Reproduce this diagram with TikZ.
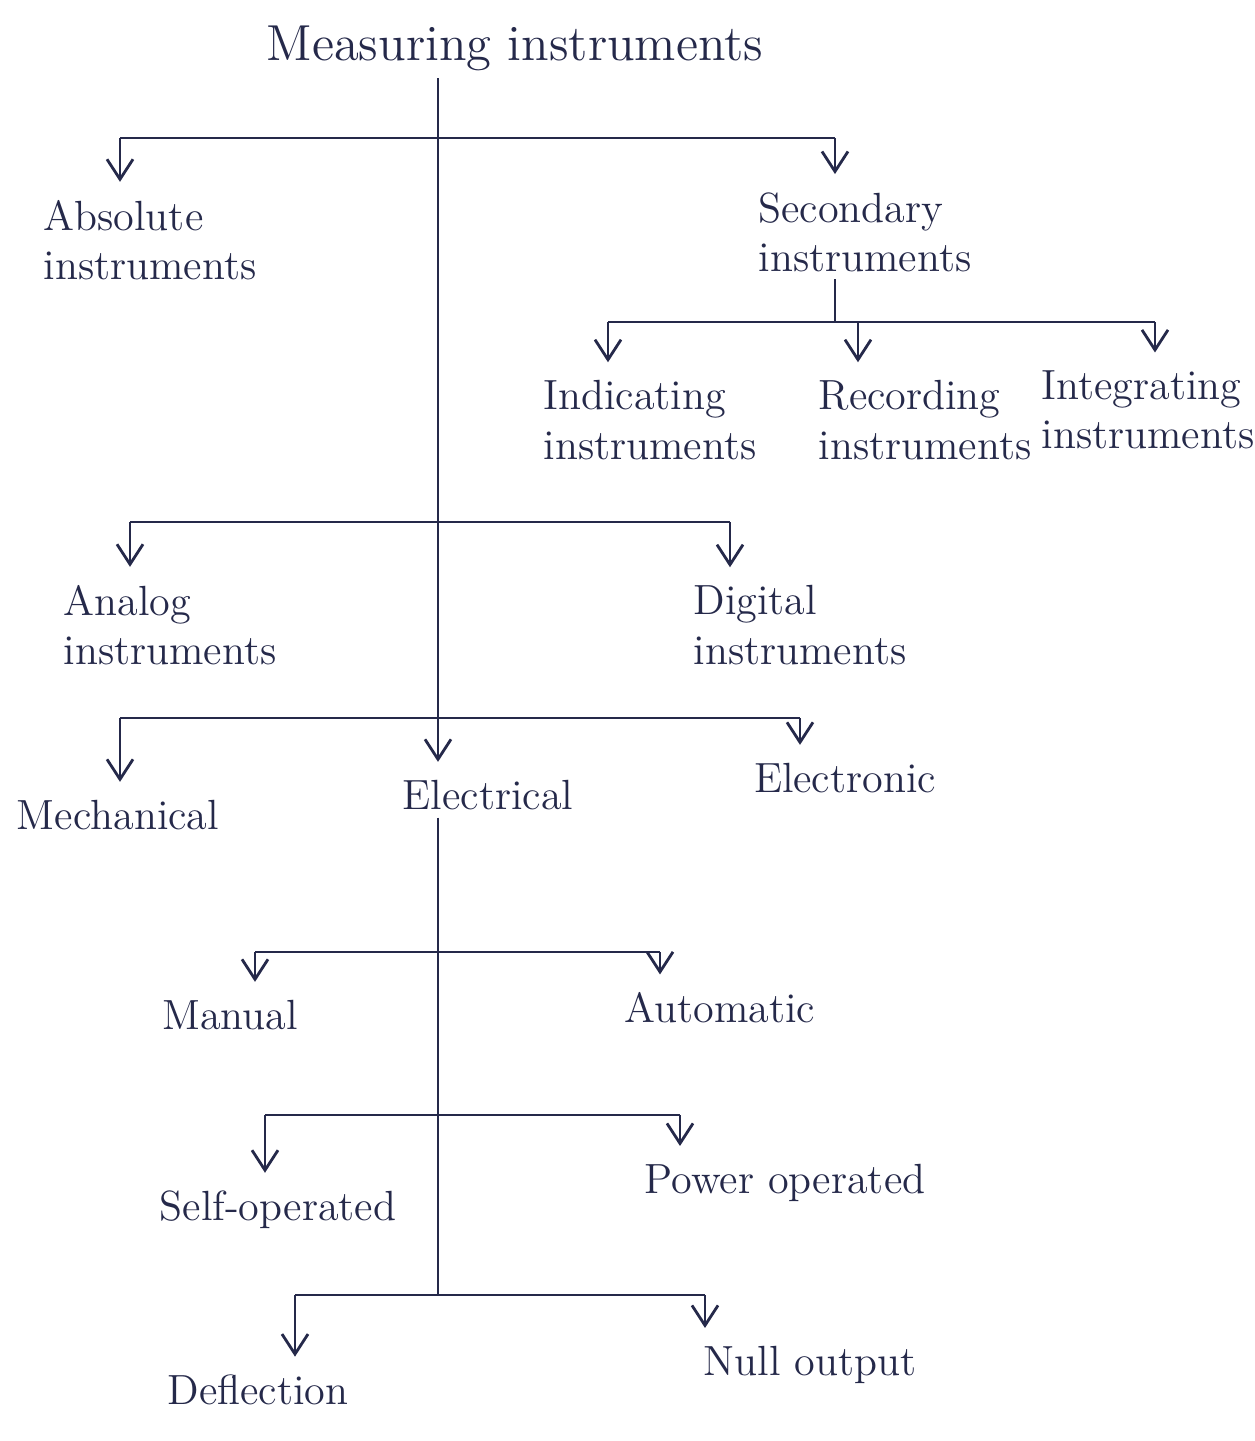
\documentclass[tikz,border=0pt]{standalone}
\usetikzlibrary{arrows.meta,positioning,calc}
\usepackage{xcolor}
\definecolor{ink}{HTML}{25294A}
\tikzset{
  item/.style={align=left,font=\large,text=ink,inner sep=2pt},
  head/.style={font=\Large,text=ink,inner sep=2pt},
  arr/.style={-{Straight Barb[length=2mm,width=2.6mm]},thick,draw=ink,shorten >=3pt},
  rule/.style={thick,draw=ink}
}

\begin{document}
\begin{tikzpicture}[x=0.01cm,y=-0.01cm]
        \useasboundingbox (0,0) rectangle (1255,1441);
        \node[head] (title) at (515,48) {Measuring instruments};
        % first levels
        \node[item] (abs) at (150,240) {Absolute\\instruments};
        \node[item] (sec) at (865,232) {Secondary\\instruments};
        \node[item] (ind) at (650,420) {Indicating\\instruments};
        \node[item] (rec) at (925,420) {Recording\\instruments};
        \node[item] (intg) at (1148,410) {Integrating\\instruments};
        \node[item] (ana) at (170,625) {Analog\\instruments};
        \node[item] (dig) at (800,625) {Digital\\instruments};
        \node[item] (mech) at (118,815) {Mechanical};
        \node[item] (elec) at (488,795) {Electrical};
        \node[item] (eln) at (845,778) {Electronic};
        % under electrical
        \node[item] (man) at (230,1015) {Manual};
        \node[item] (aut) at (720,1008) {Automatic};
        \node[item] (self) at (278,1210) {Self-operated};
        \node[item] (pow) at (785,1183) {Power operated};
        \node[item] (defl) at (258,1390) {Deflection};
        \node[item] (nul) at (810,1365) {Null output};

        \coordinate (j1) at (438,138);
        \coordinate (j3) at (438,718);
        \coordinate (a1) at (120,138);
        \coordinate (a2) at (835,138);
        \coordinate (c1) at (130,522);
        \coordinate (c2) at (730,522);
        \coordinate (d1) at (120,718);
        \coordinate (d3) at (800,718);
        \coordinate (s0) at (835,322);
        \coordinate (s1) at (608,322);
        \coordinate (s2) at (858,322);
        \coordinate (s3) at (1155,322);
        \coordinate (e3) at (438,1295);
        \coordinate (m1) at (255,952);
        \coordinate (m2) at (660,952);
        \coordinate (p1) at (265,1115);
        \coordinate (p2) at (680,1115);
        \coordinate (n1) at (295,1295);
        \coordinate (n2) at (705,1295);

        \draw[rule] (j1 |- title.south) -- (j3);
        \draw[rule] (a1) -- (a2);
        \draw[rule] (c1) -- (c2);
        \draw[rule] (d1) -- (d3);
        \draw[arr] (a1) -- (a1 |- abs.north);
        \draw[arr] (a2) -- (a2 |- sec.north);
        \draw[arr] (c1) -- (c1 |- ana.north);
        \draw[arr] (c2) -- (c2 |- dig.north);
        \draw[arr] (d1) -- (d1 |- mech.north);
        \draw[arr] (j3) -- (j3 |- elec.north);
        \draw[arr] (d3) -- (d3 |- eln.north);

        \draw[rule] (sec.south -| s0) -- (s0);
        \draw[rule] (s1) -- (s3);
        \draw[arr] (s1) -- (s1 |- ind.north);
        \draw[arr] (s2) -- (s2 |- rec.north);
        \draw[arr] (s3) -- (s3 |- intg.north);

        \draw[rule] (elec.south -| e3) -- (e3);
        \draw[rule] (m1) -- (m2);
        \draw[rule] (p1) -- (p2);
        \draw[rule] (n1) -- (n2);
        \draw[arr] (m1) -- (m1 |- man.north);
        \draw[arr] (m2) -- (m2 |- aut.north);
        \draw[arr] (p1) -- (p1 |- self.north);
        \draw[arr] (p2) -- (p2 |- pow.north);
        \draw[arr] (n1) -- (n1 |- defl.north);
        \draw[arr] (n2) -- (n2 |- nul.north);
\end{tikzpicture}
\end{document}
